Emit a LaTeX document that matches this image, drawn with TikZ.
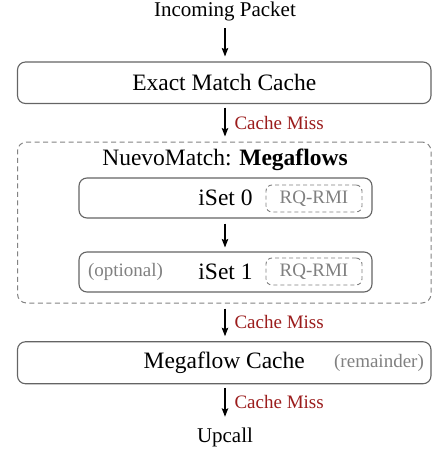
\documentclass[tikz,border=0pt]{standalone}
\usepackage{fontspec}
\setmainfont{Liberation Serif}
\usetikzlibrary{arrows.meta}
\definecolor{missred}{RGB}{155,28,28}
\definecolor{notegray}{RGB}{128,128,128}
\definecolor{framegray}{RGB}{100,100,100}
\begin{document}
\begin{tikzpicture}[x=1pt,y=-1pt,
  body/.style={font=\fontsize{21}{25}\selectfont, inner sep=0pt},
  big/.style={font=\fontsize{23.5}{28}\selectfont},
  note/.style={font=\fontsize{19}{23}\selectfont, text=notegray, inner sep=0pt},
  stage/.style={draw=framegray, line width=1.1pt, rounded corners=8pt, inner sep=0pt, big},
  group/.style={draw=framegray!80, line width=1pt, dash pattern=on 5pt off 3.5pt, rounded corners=9pt, inner sep=0pt},
  tag/.style={draw=notegray, line width=0.9pt, dash pattern=on 4pt off 3pt, rounded corners=6pt, note, minimum width=96pt, minimum height=27pt},
  flow/.style={-{Stealth[length=8.5pt,width=6.5pt,inset=1.5pt]}, line width=1.1pt},
  miss/.style={font=\fontsize{19}{23}\selectfont, text=missred, inner sep=0pt, anchor=west, xshift=9pt},
]
\useasboundingbox (0,0) rectangle (432,450);

% input and first-level cache
\node[body, anchor=base] (inc) at (225,16) {Incoming Packet};
\node[stage, minimum width=413.5pt, minimum height=41.5pt] (emc) at (224.25,82.75) {Exact Match Cache};

% NuevoMatch group with its iSets
\node[group, minimum width=413.5pt, minimum height=161pt] (nm) at (224.25,222.5) {};
\node[big, inner sep=0pt] (nmtitle) at (225,160) {NuevoMatch: \textbf{Megaflows}};
\node[stage, minimum width=293pt, minimum height=40pt] (is0) at (225.5,198) {iSet 0};
\node[tag] (rq0) at (314,198.5) {RQ-RMI};
\node[stage, minimum width=293pt, minimum height=40pt] (is1) at (225.5,272) {iSet 1};
\node[note] (opt) at (125.5,272) {(optional)};
\node[tag] (rq1) at (314,271.5) {RQ-RMI};

% fallback cache and slow path
\node[stage, minimum width=413.5pt, minimum height=42pt] (mc) at (224.25,362.75) {Megaflow Cache};
\node[note] (rem) at (379,363) {(remainder)};
\node[body, anchor=base] (up) at (225,442) {Upcall};

% connectors
\draw[flow, shorten <=7.5pt, shorten >=5pt] (inc.south) -- (inc.south |- emc.north);
\draw[flow, shorten <=3.5pt, shorten >=5pt] (emc.south -| inc.south) -- (inc.south |- nm.north)
  node[miss, pos=0.5] {Cache Miss};
\draw[flow, shorten <=5pt, shorten >=4pt] (is0.south -| inc.south) -- (inc.south |- is1.north);
\draw[flow, shorten <=5pt, shorten >=5pt] (nm.south -| inc.south) -- (inc.south |- mc.north)
  node[miss, pos=0.5] {Cache Miss};
\draw[flow, shorten <=3.5pt, shorten >=10.5pt] (mc.south -| up.north) -- (up.north)
  node[miss, pos=0.42] {Cache Miss};
\end{tikzpicture}
\end{document}
